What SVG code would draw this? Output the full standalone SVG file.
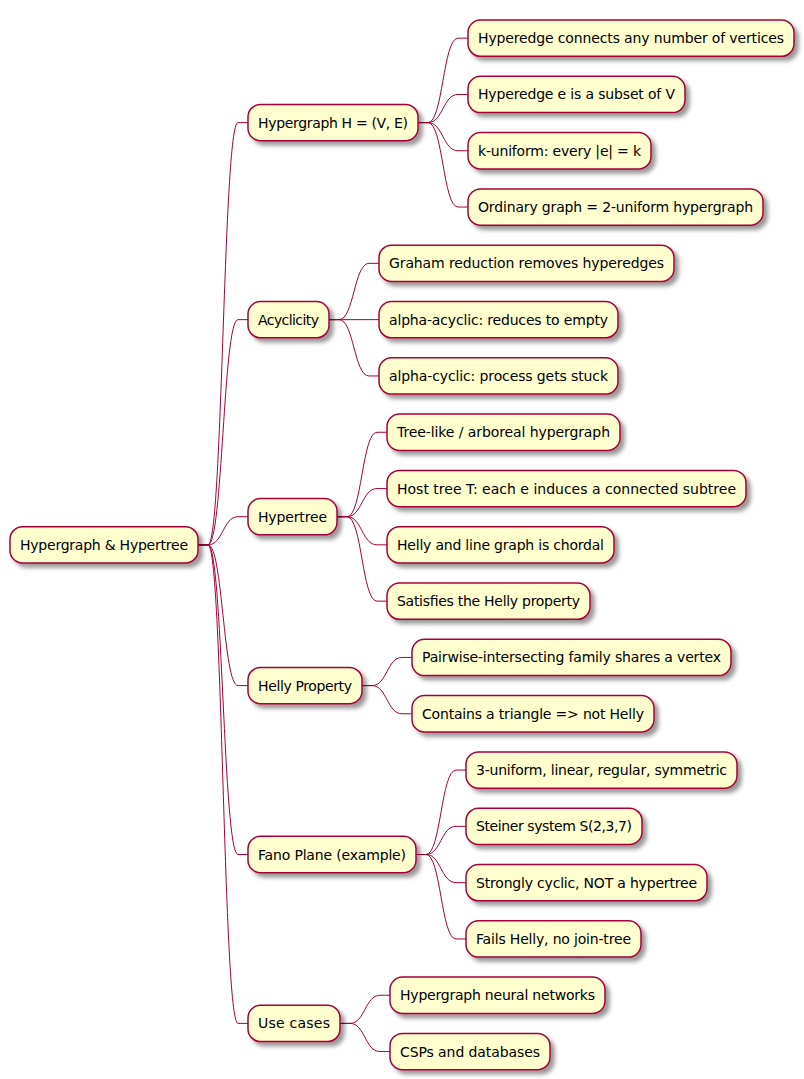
<svg xmlns="http://www.w3.org/2000/svg" width="804" height="1079" viewBox="0 0 804 1079">
<defs>
<filter id="sh" x="-1" y="-1" width="300%" height="300%">
<feGaussianBlur in="SourceAlpha" stdDeviation="2" result="b"/>
<feColorMatrix in="b" type="matrix" values="0 0 0 0 0 0 0 0 0 0 0 0 0 0 0 0 0 0 .4 0" result="b2"/>
<feOffset in="b2" dx="4" dy="4" result="b3"/>
<feBlend in="SourceGraphic" in2="b3" mode="normal"/>
</filter>
</defs>
<style>
rect{fill:#FEFECE;stroke:#A80036;stroke-width:1.5;filter:url(#sh)}
text{font-family:"DejaVu Sans",Verdana,sans-serif;font-size:14px;fill:#000;text-anchor:middle}
#connectors path{fill:none;stroke:#A80036;stroke-width:1}
</style>
<rect width="804" height="1079" fill="#FFFFFF" style="fill:#fff;stroke:none;filter:none"/>
<g id="connectors">
<path d="M198,544.85 L208,544.85 C223,544.85 223,122.6 238,122.6 L248,122.6"/>
<path d="M198,544.85 L208,544.85 C223,544.85 223,319.65 238,319.65 L248,319.65"/>
<path d="M198,544.85 L208,544.85 C223,544.85 223,516.7 238,516.7 L248,516.7"/>
<path d="M198,544.85 L208,544.85 C223,544.85 223,685.6 238,685.6 L248,685.6"/>
<path d="M198,544.85 L208,544.85 C223,544.85 223,854.5 238,854.5 L248,854.5"/>
<path d="M198,544.85 L208,544.85 C223,544.85 223,1023.4 238,1023.4 L248,1023.4"/>
<path d="M418,122.6 L428,122.6 C443,122.6 443,38.15 458,38.15 L468,38.15"/>
<path d="M418,122.6 L428,122.6 C443,122.6 443,94.45 458,94.45 L468,94.45"/>
<path d="M418,122.6 L428,122.6 C443,122.6 443,150.75 458,150.75 L468,150.75"/>
<path d="M418,122.6 L428,122.6 C443,122.6 443,207.05 458,207.05 L468,207.05"/>
<path d="M329,319.65 L339,319.65 C354,319.65 354,263.35 369,263.35 L379,263.35"/>
<path d="M329,319.65 L379,319.65"/>
<path d="M329,319.65 L339,319.65 C354,319.65 354,375.95 369,375.95 L379,375.95"/>
<path d="M337,516.7 L347,516.7 C362,516.7 362,432.25 377,432.25 L387,432.25"/>
<path d="M337,516.7 L347,516.7 C362,516.7 362,488.55 377,488.55 L387,488.55"/>
<path d="M337,516.7 L347,516.7 C362,516.7 362,544.85 377,544.85 L387,544.85"/>
<path d="M337,516.7 L347,516.7 C362,516.7 362,601.15 377,601.15 L387,601.15"/>
<path d="M362,685.6 L372,685.6 C387,685.6 387,657.45 402,657.45 L412,657.45"/>
<path d="M362,685.6 L372,685.6 C387,685.6 387,713.75 402,713.75 L412,713.75"/>
<path d="M416,854.5 L426,854.5 C441,854.5 441,770.05 456,770.05 L466,770.05"/>
<path d="M416,854.5 L426,854.5 C441,854.5 441,826.35 456,826.35 L466,826.35"/>
<path d="M416,854.5 L426,854.5 C441,854.5 441,882.65 456,882.65 L466,882.65"/>
<path d="M416,854.5 L426,854.5 C441,854.5 441,938.95 456,938.95 L466,938.95"/>
<path d="M340,1023.4 L350,1023.4 C365,1023.4 365,995.25 380,995.25 L390,995.25"/>
<path d="M340,1023.4 L350,1023.4 C365,1023.4 365,1051.55 380,1051.55 L390,1051.55"/>
</g>
<g id="root"><rect x="10" y="526.7" width="188" height="36.3" rx="12.5"/><text x="104" y="549.9" textLength="168" lengthAdjust="spacing">Hypergraph &amp; Hypertree</text></g>
<g id="n-hypergraph"><rect x="248" y="104.45" width="170" height="36.3" rx="12.5"/><text x="333" y="127.6" textLength="150" lengthAdjust="spacing">Hypergraph H = (V, E)</text></g>
<g id="n-acyclicity"><rect x="248" y="301.5" width="81" height="36.3" rx="12.5"/><text x="288.5" y="324.7" textLength="61" lengthAdjust="spacing">Acyclicity</text></g>
<g id="n-hypertree"><rect x="248" y="498.55" width="89" height="36.3" rx="12.5"/><text x="292.5" y="521.7" textLength="69" lengthAdjust="spacing">Hypertree</text></g>
<g id="n-helly"><rect x="248" y="667.45" width="114" height="36.3" rx="12.5"/><text x="305" y="690.6" textLength="94" lengthAdjust="spacing">Helly Property</text></g>
<g id="n-fano"><rect x="248" y="836.35" width="168" height="36.3" rx="12.5"/><text x="332" y="859.5" textLength="148" lengthAdjust="spacing">Fano Plane (example)</text></g>
<g id="n-usecases"><rect x="248" y="1005.25" width="92" height="36.3" rx="12.5"/><text x="294" y="1028.4" textLength="72" lengthAdjust="spacing">Use cases</text></g>
<g id="l0"><rect x="468" y="20" width="326" height="36.3" rx="12.5"/><text x="631" y="43.15" textLength="306" lengthAdjust="spacing">Hyperedge connects any number of vertices</text></g>
<g id="l1"><rect x="468" y="76.3" width="217" height="36.3" rx="12.5"/><text x="576.5" y="99.45" textLength="197" lengthAdjust="spacing">Hyperedge e is a subset of V</text></g>
<g id="l2"><rect x="468" y="132.6" width="183" height="36.3" rx="12.5"/><text x="559.5" y="155.75" textLength="163" lengthAdjust="spacing">k-uniform: every |e| = k</text></g>
<g id="l3"><rect x="468" y="188.9" width="295" height="36.3" rx="12.5"/><text x="615.5" y="212.05" textLength="275" lengthAdjust="spacing">Ordinary graph = 2-uniform hypergraph</text></g>
<g id="l4"><rect x="379" y="245.2" width="295" height="36.3" rx="12.5"/><text x="526.5" y="268.35" textLength="275" lengthAdjust="spacing">Graham reduction removes hyperedges</text></g>
<g id="l5"><rect x="379" y="301.5" width="239" height="36.3" rx="12.5"/><text x="498.5" y="324.65" textLength="219" lengthAdjust="spacing">alpha-acyclic: reduces to empty</text></g>
<g id="l6"><rect x="379" y="357.8" width="239" height="36.3" rx="12.5"/><text x="498.5" y="380.95" textLength="219" lengthAdjust="spacing">alpha-cyclic: process gets stuck</text></g>
<g id="l7"><rect x="387" y="414.1" width="233" height="36.3" rx="12.5"/><text x="503.5" y="437.25" textLength="213" lengthAdjust="spacing">Tree-like / arboreal hypergraph</text></g>
<g id="l8"><rect x="387" y="470.4" width="359" height="36.3" rx="12.5"/><text x="566.5" y="493.55" textLength="339" lengthAdjust="spacing">Host tree T: each e induces a connected subtree</text></g>
<g id="l9"><rect x="387" y="526.7" width="227" height="36.3" rx="12.5"/><text x="500.5" y="549.85" textLength="207" lengthAdjust="spacing">Helly and line graph is chordal</text></g>
<g id="l10"><rect x="387" y="583" width="203" height="36.3" rx="12.5"/><text x="488.5" y="606.15" textLength="183" lengthAdjust="spacing">Satisfies the Helly property</text></g>
<g id="l11"><rect x="412" y="639.3" width="319" height="36.3" rx="12.5"/><text x="571.5" y="662.45" textLength="299" lengthAdjust="spacing">Pairwise-intersecting family shares a vertex</text></g>
<g id="l12"><rect x="412" y="695.6" width="242" height="36.3" rx="12.5"/><text x="533" y="718.75" textLength="222" lengthAdjust="spacing">Contains a triangle =&gt; not Helly</text></g>
<g id="l13"><rect x="466" y="751.9" width="271" height="36.3" rx="12.5"/><text x="601.5" y="775.05" textLength="251" lengthAdjust="spacing">3-uniform, linear, regular, symmetric</text></g>
<g id="l14"><rect x="466" y="808.2" width="176" height="36.3" rx="12.5"/><text x="554" y="831.35" textLength="156" lengthAdjust="spacing">Steiner system S(2,3,7)</text></g>
<g id="l15"><rect x="466" y="864.5" width="241" height="36.3" rx="12.5"/><text x="586.5" y="887.65" textLength="221" lengthAdjust="spacing">Strongly cyclic, NOT a hypertree</text></g>
<g id="l16"><rect x="466" y="920.8" width="175" height="36.3" rx="12.5"/><text x="553.5" y="943.95" textLength="155" lengthAdjust="spacing">Fails Helly, no join-tree</text></g>
<g id="l17"><rect x="390" y="977.1" width="215" height="36.3" rx="12.5"/><text x="497.5" y="1000.25" textLength="195" lengthAdjust="spacing">Hypergraph neural networks</text></g>
<g id="l18"><rect x="390" y="1033.4" width="160" height="36.3" rx="12.5"/><text x="470" y="1056.55" textLength="140" lengthAdjust="spacing">CSPs and databases</text></g>
</svg>
